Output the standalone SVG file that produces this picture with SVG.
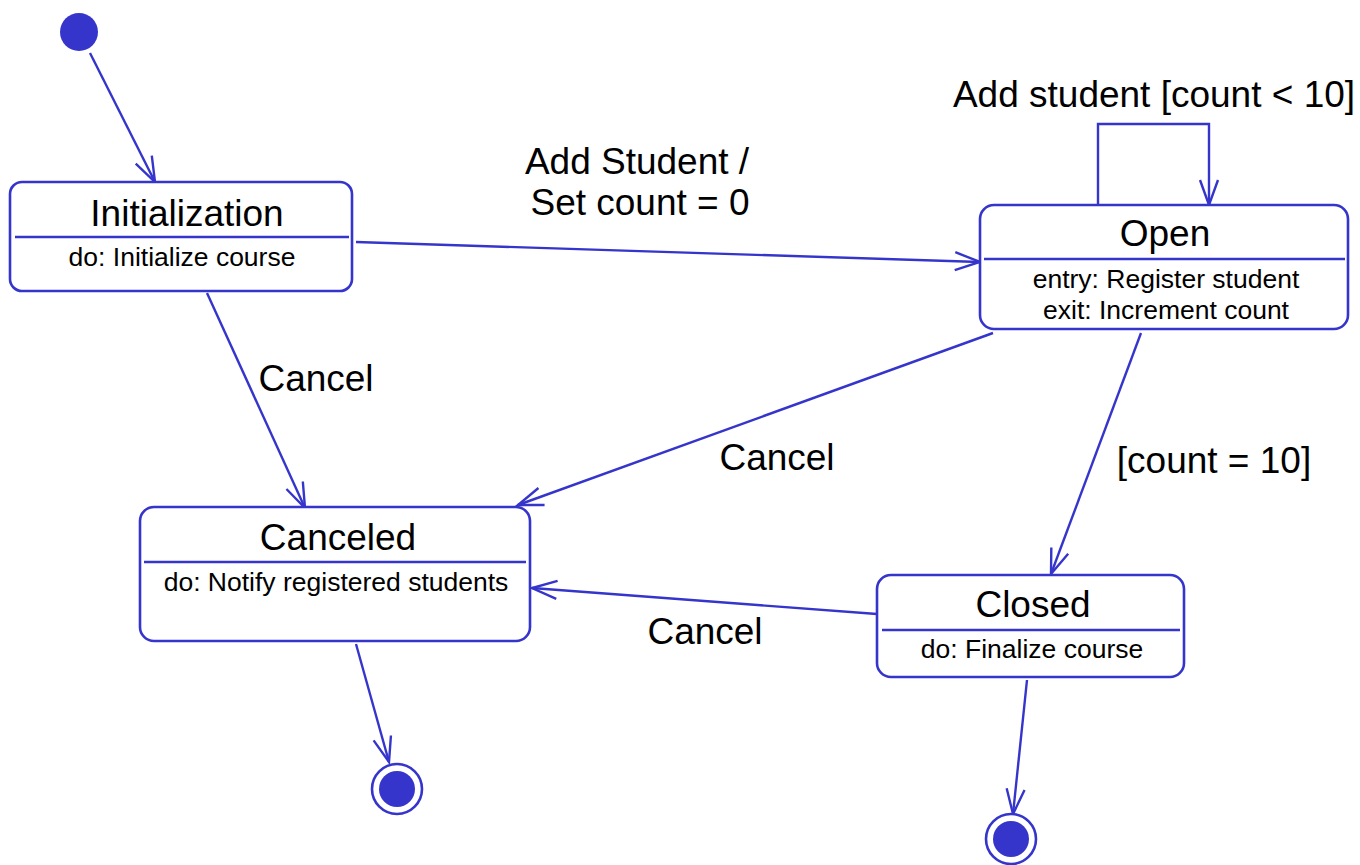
<svg xmlns="http://www.w3.org/2000/svg" width="1360" height="865" viewBox="0 0 1360 865">
<style>
.box{fill:#fff;stroke:#3535cc;stroke-width:2.6}
.div{stroke:#3535cc;stroke-width:2.6}
.edge{fill:none;stroke:#3535cc;stroke-width:2.4;marker-end:url(#arr)}
.t{font-family:"Liberation Sans",Arial,sans-serif;font-size:37px;fill:#000;text-anchor:middle}
.s{font-family:"Liberation Sans",Arial,sans-serif;font-size:26.5px;fill:#000;text-anchor:middle}
.dot{fill:#3535cc}
.ring{fill:#fff;stroke:#3535cc;stroke-width:2.6}
</style>
<defs>
<marker id="arr" markerUnits="userSpaceOnUse" markerWidth="30" markerHeight="24" viewBox="-2 -12 30 24" refX="25" refY="0" orient="auto" overflow="visible">
<path d="M0,-9 L25,0 L0,9" fill="none" stroke="#3535cc" stroke-width="2.4"/>
</marker>
</defs>
<rect width="1360" height="865" fill="#fff"/>
<g id="connectors">
<line class="edge" x1="90" y1="53" x2="155" y2="182"/>
<line class="edge" x1="356" y1="242" x2="980" y2="262"/>
<line class="edge" x1="207" y1="293" x2="305" y2="508"/>
<line class="edge" x1="993" y1="333" x2="518" y2="505"/>
<line class="edge" x1="1141" y1="333" x2="1051" y2="574"/>
<line class="edge" x1="877" y1="614" x2="532" y2="588"/>
<line class="edge" x1="356" y1="644" x2="389" y2="762"/>
<line class="edge" x1="1027" y1="680" x2="1013" y2="814"/>
<path class="edge" d="M1098,205 L1098,124 L1209,124 L1209,205"/>
<text class="t" x="1154" y="107">Add student [count &lt; 10]</text>
<text class="t" x="637" y="174">Add Student /</text>
<text class="t" x="640" y="215">Set count = 0</text>
<text class="t" x="316" y="391">Cancel</text>
<text class="t" x="777" y="470">Cancel</text>
<text class="t" x="1214" y="473">[count = 10]</text>
<text class="t" x="705" y="644">Cancel</text>
</g>
<g id="initial">
<circle class="dot" cx="79" cy="32" r="19"/>
</g>
<g id="initialization">
<rect class="box" x="10" y="182" width="342" height="109" rx="12"/>
<line class="div" x1="15" y1="237" x2="349" y2="237"/>
<text class="t" x="187" y="226">Initialization</text>
<text class="s" x="182" y="266">do: Initialize course</text>
</g>
<g id="open">
<rect class="box" x="980" y="205" width="368" height="124" rx="14"/>
<line class="div" x1="984" y1="259" x2="1345" y2="259"/>
<text class="t" x="1165" y="246">Open</text>
<text class="s" x="1166" y="288">entry: Register student</text>
<text class="s" x="1166" y="319">exit: Increment count</text>
</g>
<g id="canceled">
<rect class="box" x="140" y="507" width="390" height="134" rx="14"/>
<line class="div" x1="144" y1="562" x2="526" y2="562"/>
<text class="t" x="338" y="550">Canceled</text>
<text class="s" x="336" y="591">do: Notify registered students</text>
</g>
<g id="closed">
<rect class="box" x="877" y="575" width="307" height="102" rx="14"/>
<line class="div" x1="882" y1="630" x2="1180" y2="630"/>
<text class="t" x="1033" y="617">Closed</text>
<text class="s" x="1032" y="658">do: Finalize course</text>
</g>
<g id="final1">
<circle class="ring" cx="397" cy="789" r="25"/>
<circle class="dot" cx="397" cy="789" r="18"/>
</g>
<g id="final2">
<circle class="ring" cx="1011" cy="839" r="25"/>
<circle class="dot" cx="1011" cy="839" r="18"/>
</g>
</svg>
